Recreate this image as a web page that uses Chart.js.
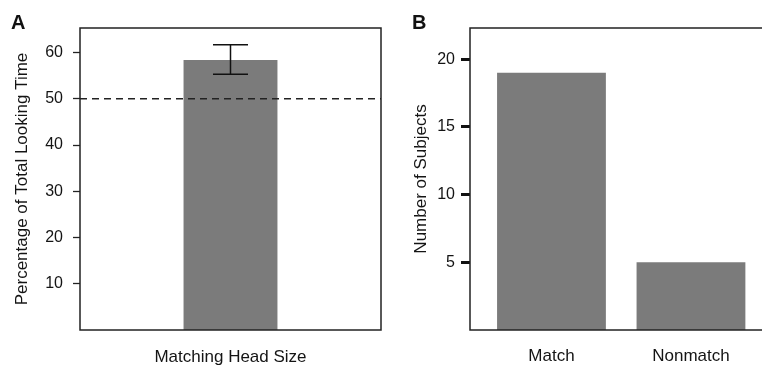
<!DOCTYPE html>
<html>
<head>
<meta charset="utf-8">
<script src="https://cdn.jsdelivr.net/npm/chart.js@4"></script>
<style>
  html, body { margin: 0; padding: 0; background: #fff; overflow: hidden; }
  #wrap { position: relative; width: 762px; height: 368px; overflow: hidden; }
  .panel { position: absolute; top: 0; height: 368px; }
  #panelA { left: 0; width: 382px; }
  #panelB { left: 381px; width: 392px; }
  .letra { position: absolute; top: 11px; font: bold 20px "Liberation Sans", Arial, sans-serif; color: #111; line-height: normal; }
</style>
</head>
<body>
<div id="wrap">
  <div class="panel" id="panelA"><canvas id="graficoA" width="382" height="368"></canvas></div>
  <div class="panel" id="panelB"><canvas id="graficoB" width="392" height="368"></canvas></div>
  <div class="letra" style="left:11px">A</div>
  <div class="letra" style="left:412px">B</div>
</div>
<script>
// Panel A: porcentaje de tiempo de mirada
var categoriasA = ['Matching Head Size'];
var valoresA = [58.4];
var errorInfA = [55.3];
var errorSupA = [61.7];
var referenciaA = 50;
var ticksA = [10, 20, 30, 40, 50, 60];

// Panel B: número de sujetos
var categoriasB = ['Match', 'Nonmatch'];
var valoresB = [19, 5];
var ticksB = [5, 10, 15, 20];

var gris = '#7b7b7b';
var colorTexto = '#141414';
var colorLinea = '#222';

Chart.defaults.font.family = '"Liberation Sans", Arial, sans-serif';
Chart.defaults.font.size = 16;
Chart.defaults.color = colorTexto;

// marco alrededor del area del grafico
var marco = {
   id: 'marco',
   afterDraw: function (chart) {
      var a = chart.chartArea;
      var ctx = chart.ctx;
      ctx.save();
      ctx.strokeStyle = colorLinea;
      ctx.lineWidth = 1.5;
      ctx.strokeRect(a.left, a.top, a.right - a.left, a.bottom - a.top);
      ctx.restore();
   }
};

// linea discontinua al 50%
var lineaReferencia = {
   id: 'lineaReferencia',
   afterDatasetsDraw: function (chart) {
      var a = chart.chartArea;
      var y = chart.scales.y.getPixelForValue(referenciaA);
      var ctx = chart.ctx;
      ctx.save();
      ctx.strokeStyle = colorLinea;
      ctx.lineWidth = 1.5;
      ctx.setLineDash([7, 5]);
      ctx.beginPath();
      ctx.moveTo(a.left, y);
      ctx.lineTo(a.right, y);
      ctx.stroke();
      ctx.restore();
   }
};

// barras de error
var barrasError = {
   id: 'barrasError',
   afterDatasetsDraw: function (chart) {
      var meta = chart.getDatasetMeta(0);
      var escalaY = chart.scales.y;
      var ctx = chart.ctx;
      ctx.save();
      ctx.strokeStyle = '#111';
      ctx.lineWidth = 1.5;
      meta.data.forEach(function (barra, i) {
         var x = barra.x;
         var y1 = escalaY.getPixelForValue(errorInfA[i]);
         var y2 = escalaY.getPixelForValue(errorSupA[i]);
         ctx.beginPath();
         ctx.moveTo(x, y1); ctx.lineTo(x, y2);
         ctx.moveTo(x - 17.5, y1); ctx.lineTo(x + 17.5, y1);
         ctx.moveTo(x - 17.5, y2); ctx.lineTo(x + 17.5, y2);
         ctx.stroke();
      });
      ctx.restore();
   }
};

new Chart(document.getElementById('graficoA').getContext('2d'), {
   type: 'bar',
   data: {
      labels: categoriasA,
      datasets: [{
         data: valoresA,
         backgroundColor: gris,
         borderWidth: 0,
         barPercentage: 0.312,
         categoryPercentage: 1
      }]
   },
   options: {
      responsive: false,
      animation: false,
      layout: { padding: { top: 28, right: 1, left: 0, bottom: 0 } },
      plugins: { legend: { display: false }, tooltip: { enabled: false } },
      scales: {
         x: {
            offset: true,
            grid: { display: false, drawTicks: false },
            border: { display: false },
            ticks: { padding: 17, font: { size: 17 } },
            afterFit: function (s) { s.height = 38; }
         },
         y: {
            min: 0,
            max: 65.3,
            grid: { drawOnChartArea: false, drawTicks: true, tickLength: 7, tickColor: colorLinea, tickWidth: 1.3 },
            border: { display: false },
            ticks: { padding: 10 },
            afterBuildTicks: function (s) { s.ticks = ticksA.map(function (v) { return { value: v }; }); },
            title: { display: true, text: 'Percentage of Total Looking Time', font: { size: 17 }, padding: { top: 12, bottom: 0 } },
            afterFit: function (s) { s.width = 80; }
         }
      }
   },
   plugins: [marco, lineaReferencia, barrasError]
});

new Chart(document.getElementById('graficoB').getContext('2d'), {
   type: 'bar',
   data: {
      datasets: [{
         data: categoriasB.map(function (c, i) { return { x: i + 1, y: valoresB[i] }; }),
         backgroundColor: gris,
         borderWidth: 0,
         barPercentage: 0.78,
         categoryPercentage: 1
      }]
   },
   options: {
      responsive: false,
      animation: false,
      layout: { padding: { top: 28, right: 0, left: 0, bottom: 0 } },
      plugins: { legend: { display: false }, tooltip: { enabled: false } },
      scales: {
         x: {
            type: 'linear',
            bounds: 'data',
            offset: false,
            min: 0.416,
            max: 2.588,
            grid: { display: false, drawTicks: false, offset: false },
            border: { display: false },
            ticks: {
               padding: 16,
               font: { size: 17 },
               callback: function (v, i) { return categoriasB[i]; }
            },
            afterBuildTicks: function (s) { s.ticks = categoriasB.map(function (c, i) { return { value: i + 1 }; }); },
            afterFit: function (s) { s.height = 38; }
         },
         y: {
            min: 0,
            max: 22.3,
            grid: { drawOnChartArea: false, drawTicks: true, tickLength: 9, tickColor: '#111', tickWidth: 3 },
            border: { display: false },
            ticks: { padding: 6 },
            afterBuildTicks: function (s) { s.ticks = ticksB.map(function (v) { return { value: v }; }); },
            title: { display: true, text: 'Number of Subjects', font: { size: 17 }, padding: { top: 30, bottom: 0 } },
            afterFit: function (s) { s.width = 89; }
         }
      }
   },
   plugins: [marco]
});
</script>
</body>
</html>
